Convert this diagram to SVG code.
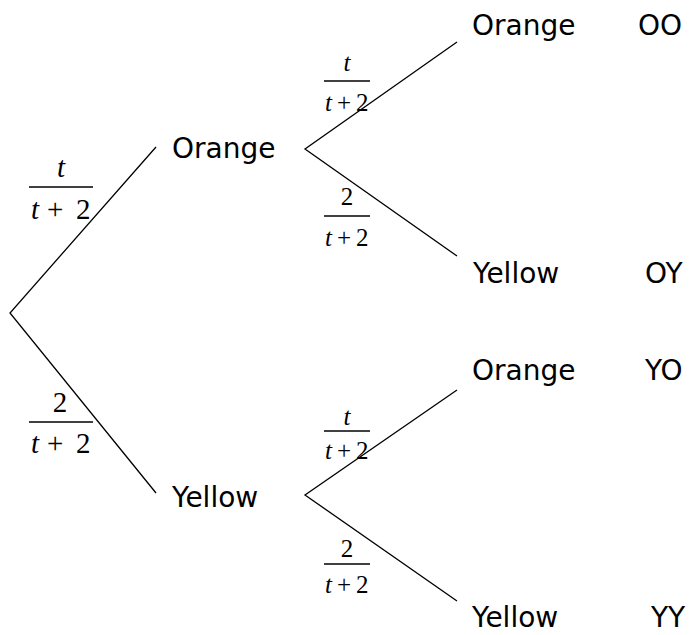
<svg xmlns="http://www.w3.org/2000/svg" width="691" height="635" viewBox="0 0 691 635">
  <style>
    .lbl { font-family: "DejaVu Sans", "Liberation Sans", sans-serif; font-size: 28px; fill: #000; }
    .m1 { font-family: "Liberation Serif", "Times New Roman", serif; font-size: 29px; fill: #000; }
    .m2 { font-family: "Liberation Serif", "Times New Roman", serif; font-size: 25px; fill: #000; }
    .it { font-style: italic; }
    .edge { stroke: #000; stroke-width: 1.3; fill: none; }
    .bar { stroke: #000; stroke-width: 1.5; }
  </style>
  <rect width="691" height="635" fill="#fff"/>

  <!-- branches -->
  <g id="connectors">
    <path class="edge" d="M156,147 L10,313 L156,493"/>
    <path class="edge" d="M457,42 L305,149 L457,256"/>
    <path class="edge" d="M457,390 L305,495 L457,601"/>
  </g>

  <!-- probabilities -->
  <g id="prob-O">
    <text class="m1 it" x="61" y="177" text-anchor="middle">t</text>
    <line class="bar" x1="29" y1="187" x2="93" y2="187"/>
    <text class="m1" y="219"><tspan class="it" x="31">t</tspan><tspan x="47">+</tspan><tspan x="76">2</tspan></text>
  </g>
  <g id="prob-Y">
    <text class="m1" x="60" y="412" text-anchor="middle">2</text>
    <line class="bar" x1="29" y1="422" x2="93" y2="422"/>
    <text class="m1" y="453"><tspan class="it" x="31">t</tspan><tspan x="47">+</tspan><tspan x="76">2</tspan></text>
  </g>
  <g id="prob-OO">
    <text class="m2 it" x="347" y="71" text-anchor="middle">t</text>
    <line class="bar" x1="324" y1="81" x2="370" y2="81"/>
    <text class="m2" y="111"><tspan class="it" x="325">t</tspan><tspan x="337">+</tspan><tspan x="356">2</tspan></text>
  </g>
  <g id="prob-OY">
    <text class="m2" x="347" y="205" text-anchor="middle">2</text>
    <line class="bar" x1="324" y1="216" x2="370" y2="216"/>
    <text class="m2" y="246"><tspan class="it" x="325">t</tspan><tspan x="337">+</tspan><tspan x="356">2</tspan></text>
  </g>
  <g id="prob-YO">
    <text class="m2 it" x="347" y="425" text-anchor="middle">t</text>
    <line class="bar" x1="324" y1="431" x2="370" y2="431"/>
    <text class="m2" y="459"><tspan class="it" x="325">t</tspan><tspan x="337">+</tspan><tspan x="356">2</tspan></text>
  </g>
  <g id="prob-YY">
    <text class="m2" x="347" y="557" text-anchor="middle">2</text>
    <line class="bar" x1="324" y1="564" x2="370" y2="564"/>
    <text class="m2" y="593"><tspan class="it" x="325">t</tspan><tspan x="337">+</tspan><tspan x="356">2</tspan></text>
  </g>

  <!-- outcomes -->
  <g id="node-orange"><text class="lbl" x="172" y="158">Orange</text></g>
  <g id="node-yellow"><text class="lbl" x="172" y="507">Yellow</text></g>
  <g id="node-orange-orange"><text class="lbl" x="472" y="35">Orange</text><text class="lbl" x="638" y="35">OO</text></g>
  <g id="node-orange-yellow"><text class="lbl" x="473" y="283">Yellow</text><text class="lbl" x="645" y="283">OY</text></g>
  <g id="node-yellow-orange"><text class="lbl" x="472" y="380">Orange</text><text class="lbl" x="645" y="380">YO</text></g>
  <g id="node-yellow-yellow"><text class="lbl" x="472" y="627">Yellow</text><text class="lbl" x="651" y="627">YY</text></g>
</svg>
